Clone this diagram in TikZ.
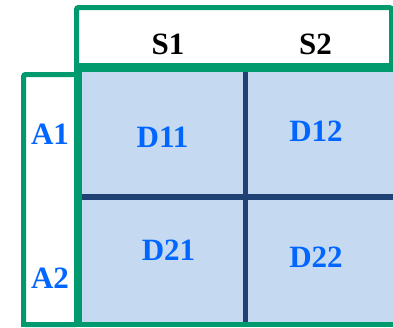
\documentclass[tikz,border=0pt]{standalone}
\usepackage{fontspec}
\setmainfont{Liberation Serif}
\usepackage{tikz}
\definecolor{frameGreen}{HTML}{009A6E}
\definecolor{cellBlue}{HTML}{C5D9F1}
\definecolor{gridBlue}{HTML}{1F4173}
\definecolor{labelBlue}{HTML}{0066FF}
\tikzset{
  frame/.style={draw=frameGreen, line width=5pt, rounded corners=2pt},
  grid line/.style={draw=gridBlue, line width=5.5pt},
  head/.style={font=\fontsize{31}{33}\selectfont\bfseries, inner sep=0pt},
  cell/.style={head, text=labelBlue}
}

\begin{document}
\begin{tikzpicture}[x=1pt, y=-1pt]
    \useasboundingbox (0, 0) rectangle (393, 327);

    % cells
    \fill[cellBlue] (82, 72) rectangle (393, 322);
    \draw[grid line] (82, 197) -- (393, 197);
    \draw[grid line] (245.5, 72) -- (245.5, 322);

    % column header and row header
    \draw[frame, fill=white] (76.5, 7.5) rectangle (391.5, 67.5);
    \draw[frame, fill=white] (23.5, 74.5) rectangle (78, 324.5);
    \fill[frameGreen] (74, 63) rectangle (393, 72);
    \fill[frameGreen] (74, 72) rectangle (82, 327);
    \fill[frameGreen] (21, 322) rectangle (393, 327);

    \node[head] (s1) at (168, 44) {S1};
    \node[head] (s2) at (315.5, 44) {S2};
    \node[cell] (a1) at (50, 134.5) {A1};
    \node[cell] (a2) at (50, 278.5) {A2};

    \foreach \n/\x/\y in {11/162.5/137.5, 12/316/131, 21/168.5/250, 22/316/257}{
      \node[cell] (d\n) at (\x, \y) {D\n};
    }
  \end{tikzpicture}
\end{document}
